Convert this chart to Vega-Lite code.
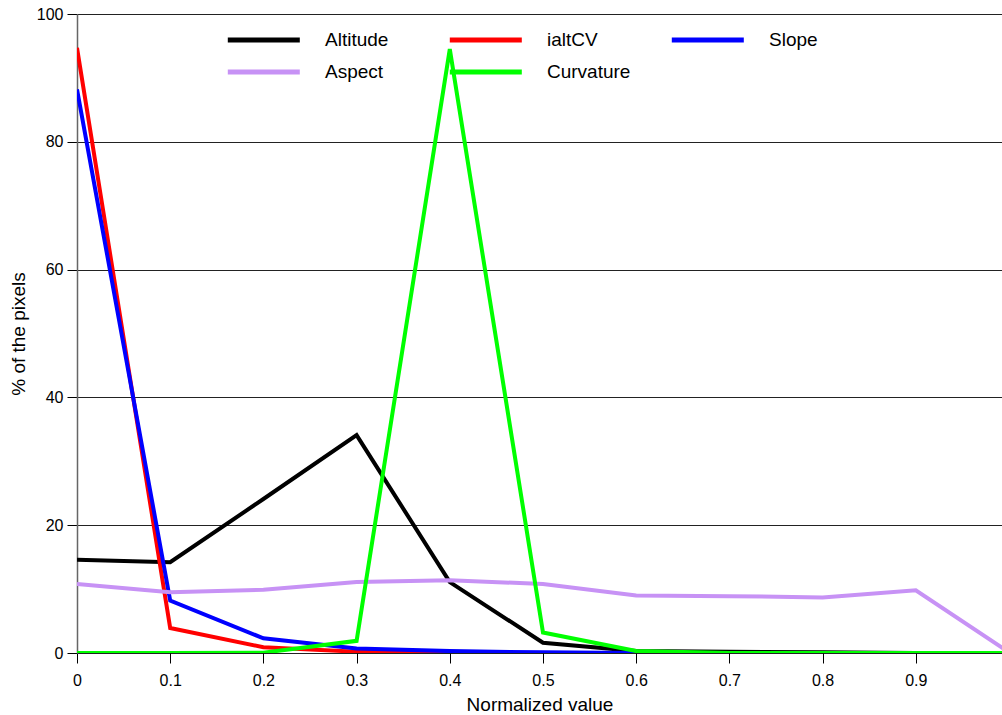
{
  "$schema": "https://vega.github.io/schema/vega-lite/v6.json",
  "width": 925,
  "height": 639,
  "autosize": "none",
  "padding": {"left": 77, "top": 14, "right": 0, "bottom": 62},
  "background": "white",
  "config": {
    "view": {"stroke": null},
    "font": "Liberation Sans",
    "axis": {"labelFont": "Liberation Sans", "titleFont": "Liberation Sans", "labelColor": "#000", "titleColor": "#000", "titleFontWeight": "normal"},
    "legend": {"labelFont": "Liberation Sans"}
  },
  "data": {
    "values": [
      {"x": 0.0, "v": 14.6, "s": "Altitude"},
      {"x": 0.1, "v": 14.2, "s": "Altitude"},
      {"x": 0.2, "v": 24.1, "s": "Altitude"},
      {"x": 0.3, "v": 34.1, "s": "Altitude"},
      {"x": 0.4, "v": 11.1, "s": "Altitude"},
      {"x": 0.5, "v": 1.6, "s": "Altitude"},
      {"x": 0.6, "v": 0.3, "s": "Altitude"},
      {"x": 0.7, "v": 0.2, "s": "Altitude"},
      {"x": 0.8, "v": 0.1, "s": "Altitude"},
      {"x": 0.9, "v": 0.0, "s": "Altitude"},
      {"x": 1.0, "v": 0.0, "s": "Altitude"},
      {"x": 0.0, "v": 94.7, "s": "ialtCV"},
      {"x": 0.1, "v": 3.9, "s": "ialtCV"},
      {"x": 0.2, "v": 0.9, "s": "ialtCV"},
      {"x": 0.3, "v": 0.2, "s": "ialtCV"},
      {"x": 0.4, "v": 0.05, "s": "ialtCV"},
      {"x": 0.5, "v": 0.0, "s": "ialtCV"},
      {"x": 0.6, "v": 0.0, "s": "ialtCV"},
      {"x": 0.7, "v": 0.0, "s": "ialtCV"},
      {"x": 0.8, "v": 0.0, "s": "ialtCV"},
      {"x": 0.9, "v": 0.0, "s": "ialtCV"},
      {"x": 1.0, "v": 0.0, "s": "ialtCV"},
      {"x": 0.0, "v": 88.2, "s": "Slope"},
      {"x": 0.1, "v": 8.2, "s": "Slope"},
      {"x": 0.2, "v": 2.3, "s": "Slope"},
      {"x": 0.3, "v": 0.7, "s": "Slope"},
      {"x": 0.4, "v": 0.3, "s": "Slope"},
      {"x": 0.5, "v": 0.1, "s": "Slope"},
      {"x": 0.6, "v": 0.0, "s": "Slope"},
      {"x": 0.7, "v": 0.0, "s": "Slope"},
      {"x": 0.8, "v": 0.0, "s": "Slope"},
      {"x": 0.9, "v": 0.0, "s": "Slope"},
      {"x": 1.0, "v": 0.0, "s": "Slope"},
      {"x": 0.0, "v": 10.8, "s": "Aspect"},
      {"x": 0.1, "v": 9.5, "s": "Aspect"},
      {"x": 0.2, "v": 9.9, "s": "Aspect"},
      {"x": 0.3, "v": 11.1, "s": "Aspect"},
      {"x": 0.4, "v": 11.4, "s": "Aspect"},
      {"x": 0.5, "v": 10.8, "s": "Aspect"},
      {"x": 0.6, "v": 9.0, "s": "Aspect"},
      {"x": 0.7, "v": 8.9, "s": "Aspect"},
      {"x": 0.8, "v": 8.7, "s": "Aspect"},
      {"x": 0.9, "v": 9.8, "s": "Aspect"},
      {"x": 1.0, "v": 0.1, "s": "Aspect"},
      {"x": 0.0, "v": 0.0, "s": "Curvature"},
      {"x": 0.1, "v": 0.0, "s": "Curvature"},
      {"x": 0.2, "v": 0.05, "s": "Curvature"},
      {"x": 0.3, "v": 1.9, "s": "Curvature"},
      {"x": 0.4, "v": 94.5, "s": "Curvature"},
      {"x": 0.5, "v": 3.2, "s": "Curvature"},
      {"x": 0.6, "v": 0.3, "s": "Curvature"},
      {"x": 0.7, "v": 0.0, "s": "Curvature"},
      {"x": 0.8, "v": 0.0, "s": "Curvature"},
      {"x": 0.9, "v": 0.0, "s": "Curvature"},
      {"x": 1.0, "v": 0.0, "s": "Curvature"}
    ]
  },
  "encoding": {
    "x": {
      "field": "x", "type": "quantitative",
      "scale": {"domain": [0, 0.9925], "nice": false, "zero": false},
      "axis": {
        "title": "Normalized value", "titleFontSize": 19, "titlePadding": 7,
        "values": [0, 0.1, 0.2, 0.3, 0.4, 0.5, 0.6, 0.7, 0.8, 0.9],
        "labelExpr": "datum.value == 0 ? '0' : format(datum.value, '.1f')",
        "labelFontSize": 16, "labelPadding": 9, "tickSize": 10, "tickColor": "#000",
        "domain": false, "grid": false, "labelFlush": false
      }
    },
    "y": {
      "field": "v", "type": "quantitative",
      "scale": {"domain": [0, 100], "nice": false},
      "axis": {
        "title": "% of the pixels", "titleFontSize": 19, "titlePadding": 8,
        "values": [0, 20, 40, 60, 80, 100],
        "labelFontSize": 16, "labelPadding": 4, "tickSize": 10, "tickColor": "#000",
        "domainColor": "#666", "domainWidth": 1.5,
        "grid": true, "gridColor": "#222", "gridOpacity": 1, "gridWidth": 1
      }
    },
    "color": {
      "field": "s", "type": "nominal",
      "scale": {
        "domain": ["Altitude", "ialtCV", "Slope", "Aspect", "Curvature"],
        "range": ["#000000", "#ff0000", "#0000ff", "#c792f5", "#00ff00"]
      },
      "legend": {
        "title": null, "orient": "none", "legendX": 148, "legendY": 16,
        "direction": "horizontal",
        "columns": 3, "gridAlign": "all", "columnPadding": 30, "rowPadding": 12,
        "symbolType": "M-1,0H9", "symbolSize": 207.4, "symbolStrokeWidth": 5,
        "labelFontSize": 19, "labelOffset": 80, "padding": 0, "labelColor": "#000"
      }
    }
  },
  "layer": [
    {
      "transform": [{"filter": "datum.s == 'Altitude' || datum.s == 'ialtCV' || datum.s == 'Slope'"}],
      "mark": {"type": "line", "strokeWidth": 4, "clip": true}
    },
    {
      "transform": [{"filter": "datum.s == 'Aspect'"}],
      "mark": {"type": "line", "strokeWidth": 4, "clip": true}
    },
    {
      "transform": [{"filter": "datum.s == 'Curvature'"}],
      "mark": {"type": "line", "strokeWidth": 4, "clip": true}
    }
  ]
}
